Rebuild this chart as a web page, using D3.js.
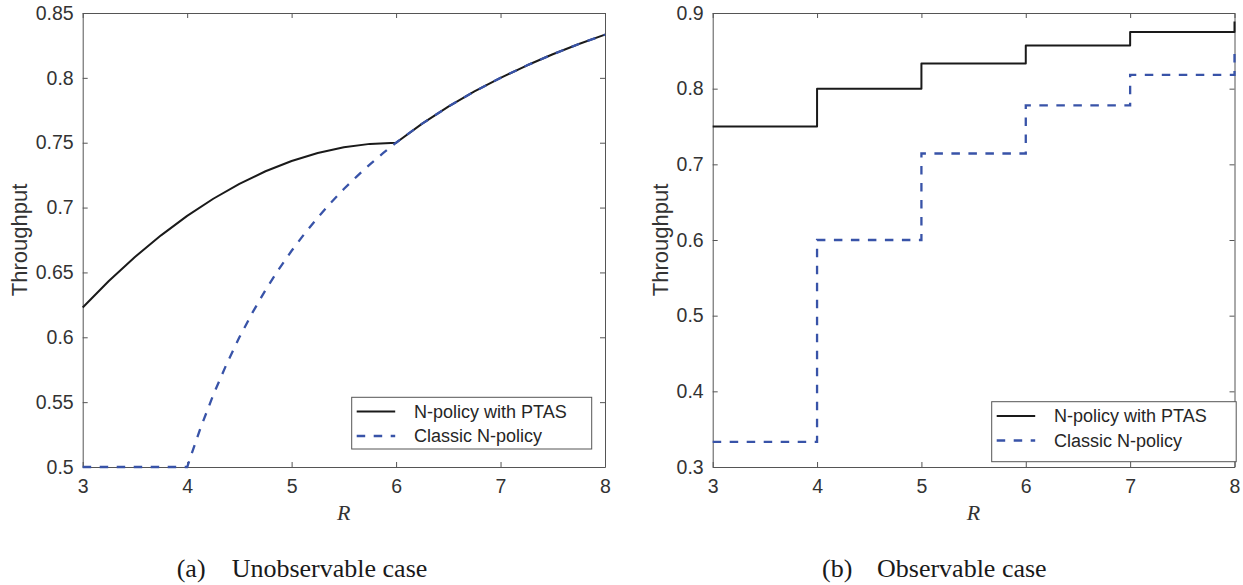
<!DOCTYPE html>
<html>
<head>
<meta charset="utf-8">
<script src="https://cdn.jsdelivr.net/npm/d3@7"></script>
<style>
    body { margin: 0; background: #fff; }
    .tick text { font-family: "Liberation Sans", Arial, sans-serif; font-size: 19.5px; fill: #333; }
    .axis path, .axis line { stroke: #555; stroke-width: 1; }
</style>
</head>
<body>
<script>
(function(){

    //panel (a): unobservable case
    var rPtasA = [3, 3.25, 3.5, 3.75, 4, 4.25, 4.5, 4.75, 5, 5.25, 5.5, 5.75, 6, 6.25, 6.5, 6.75, 7, 7.25, 7.5, 7.75, 8];
    var ptasA = [0.623, 0.6434, 0.6619, 0.6786, 0.6936, 0.7068, 0.7183, 0.7280, 0.7359, 0.7421, 0.7465, 0.7491, 0.750,
        0.7647, 0.7778, 0.7895, 0.8, 0.8095, 0.8182, 0.8261, 0.8333];
    var rClassicA = [3, 4, 4.125, 4.25, 4.375, 4.5, 4.625, 4.75, 4.875, 5, 5.125, 5.25, 5.375, 5.5, 5.625, 5.75, 5.875, 6,
        6.25, 6.5, 6.75, 7, 7.25, 7.5, 7.75, 8];
    var classicA = [0.5, 0.5, 0.5294, 0.5556, 0.5789, 0.6, 0.6190, 0.6364, 0.6522, 0.6667, 0.68, 0.6923, 0.7037, 0.7143,
        0.7241, 0.7333, 0.7419, 0.75, 0.7647, 0.7778, 0.7895, 0.8, 0.8095, 0.8182, 0.8261, 0.8333];
    var yTicksA = [0.5, 0.55, 0.6, 0.65, 0.7, 0.75, 0.8, 0.85];

    //panel (b): observable case (step series)
    var rB = [3, 4, 5, 6, 7, 8];
    var ptasB = [0.75, 0.8, 0.8333, 0.8571, 0.875, 0.8889];
    var classicB = [0.3333, 0.6, 0.7143, 0.7778, 0.8182, 0.8462];
    var yTicksB = [0.3, 0.4, 0.5, 0.6, 0.7, 0.8, 0.9];

    var xTicks = [3, 4, 5, 6, 7, 8];
    var seriesNames = ["N-policy with PTAS", "Classic N-policy"];

    var black = "#1a1a1a",
        blue = "#3853a8",
        dash = "8.5,8.5";

    var svg = d3.select("body")
        .append("svg")
        .attr("width", 1243)
        .attr("height", 585);

    svg.append("rect")
        .attr("width", 1243)
        .attr("height", 585)
        .attr("fill", "#fff");

    drawPanel({
        left: 82.7, right: 605, top: 13, bottom: 467,
        yDomain: [0.5, 0.85], yTicks: yTicksA,
        ptas: d3.zip(rPtasA, ptasA), classic: d3.zip(rClassicA, classicA),
        curve: d3.curveLinear,
        labelX: 27,
        legend: {x0: 351.7, y0: 397.3, x1: 591.7, y1: 449, row1: 411.5, row2: 436},
        caption: {x: 176.7, x2: 231.7, label: "(a)", text: "Unobservable case"}
    });

    drawPanel({
        left: 712.7, right: 1234.5, top: 13, bottom: 467,
        yDomain: [0.3, 0.9], yTicks: yTicksB,
        ptas: d3.zip(rB, ptasB), classic: d3.zip(rB, classicB),
        curve: d3.curveStepAfter,
        labelX: 668,
        legend: {x0: 991.7, y0: 401.7, x1: 1236.2, y1: 461.7, row1: 416, row2: 440.5},
        caption: {x: 822, x2: 877, label: "(b)", text: "Observable case"}
    });

    function drawPanel(p){
        var x = d3.scaleLinear().domain([3, 8]).range([p.left, p.right]);
        var y = d3.scaleLinear().domain(p.yDomain).range([p.bottom, p.top]);

        //axes with inward ticks on all four sides
        svg.append("g")
            .attr("class", "axis")
            .attr("transform", "translate(0," + p.bottom + ")")
            .call(d3.axisBottom(x).tickValues(xTicks).tickSizeInner(-5).tickSizeOuter(0).tickPadding(12).tickFormat(d3.format("d")));
        svg.append("g")
            .attr("class", "axis")
            .attr("transform", "translate(0," + p.top + ")")
            .call(d3.axisTop(x).tickValues(xTicks).tickSizeInner(-5).tickSizeOuter(0).tickFormat(""));
        svg.append("g")
            .attr("class", "axis")
            .attr("transform", "translate(" + p.left + ",0)")
            .call(d3.axisLeft(y).tickValues(p.yTicks).tickSizeInner(-5).tickSizeOuter(0).tickPadding(9).tickFormat(d3.format("~g")));
        svg.append("g")
            .attr("class", "axis")
            .attr("transform", "translate(" + p.right + ",0)")
            .call(d3.axisRight(y).tickValues(p.yTicks).tickSizeInner(-5).tickSizeOuter(0).tickFormat(""));

        var line = d3.line()
            .x(function(d){ return x(d[0]); })
            .y(function(d){ return y(d[1]); })
            .curve(p.curve);

        svg.append("path")
            .datum(p.ptas)
            .attr("d", line)
            .attr("fill", "none")
            .attr("stroke", black)
            .attr("stroke-width", 2)
            .attr("stroke-linejoin", "round");

        svg.append("path")
            .datum(p.classic)
            .attr("d", line)
            .attr("fill", "none")
            .attr("stroke", blue)
            .attr("stroke-width", 2.3)
            .attr("stroke-dasharray", dash);

        //axis labels
        svg.append("text")
            .attr("x", (p.left + p.right) / 2)
            .attr("y", 520)
            .attr("text-anchor", "middle")
            .style("font-family", "'Liberation Serif', serif")
            .style("font-style", "italic")
            .style("font-size", "22px")
            .style("fill", "#333")
            .text("R");

        svg.append("text")
            .attr("transform", "translate(" + p.labelX + "," + ((p.top + p.bottom) / 2) + ") rotate(-90)")
            .attr("text-anchor", "middle")
            .style("font-family", "'Liberation Sans', Arial, sans-serif")
            .style("font-size", "22px")
            .style("fill", "#333")
            .text("Throughput");

        //legend
        var lg = p.legend;
        svg.append("rect")
            .attr("x", lg.x0)
            .attr("y", lg.y0)
            .attr("width", lg.x1 - lg.x0)
            .attr("height", lg.y1 - lg.y0)
            .attr("fill", "#fff")
            .attr("stroke", "#555")
            .attr("stroke-width", 1);

        var rows = [lg.row1, lg.row2];
        seriesNames.forEach(function(name, i){
            svg.append("line")
                .attr("x1", lg.x0 + 5)
                .attr("x2", lg.x0 + 43.5)
                .attr("y1", rows[i])
                .attr("y2", rows[i])
                .attr("stroke", i == 0 ? black : blue)
                .attr("stroke-width", i == 0 ? 2 : 2.3)
                .attr("stroke-dasharray", i == 0 ? null : dash);
            svg.append("text")
                .attr("x", lg.x0 + 62.3)
                .attr("y", rows[i])
                .attr("dy", "0.35em")
                .style("font-family", "'Liberation Sans', Arial, sans-serif")
                .style("font-size", "18px")
                .style("fill", "#262626")
                .text(name);
        });

        //sub-figure caption
        var cap = svg.append("text")
            .attr("y", 577)
            .style("font-family", "'Liberation Serif', serif")
            .style("font-size", "26px")
            .style("fill", "#1a1a1a");
        cap.append("tspan").attr("x", p.caption.x).text(p.caption.label);
        cap.append("tspan").attr("x", p.caption.x2).text(p.caption.text);
    }

})();
</script>
</body>
</html>
